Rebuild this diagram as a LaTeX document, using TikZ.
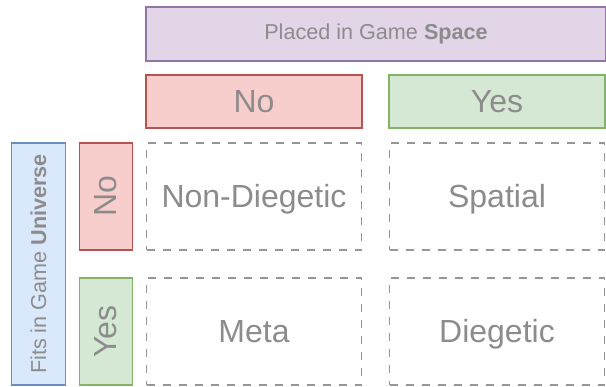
\documentclass[tikz,border=0pt]{standalone}
\usepackage{fontspec}
\setmainfont{Liberation Sans}
\usepackage{graphicx}
\usetikzlibrary{positioning}
\definecolor{txtgray}{RGB}{140,140,140}
\definecolor{cellgray}{RGB}{150,150,150}
\definecolor{redfill}{HTML}{F8CECC}
\definecolor{reddraw}{HTML}{B85450}
\definecolor{greenfill}{HTML}{D5E8D4}
\definecolor{greendraw}{HTML}{82B366}
\definecolor{purplefill}{HTML}{E1D5E7}
\definecolor{purpledraw}{HTML}{9673A6}
\definecolor{bluefill}{HTML}{DAE8FC}
\definecolor{bluedraw}{HTML}{6C8EBF}

\begin{document}
\begin{tikzpicture}[
    x=1pt, y=1pt,
    every node/.style={outer sep=0pt, inner sep=0pt, text=txtgray, align=center},
    big/.style={font=\fontsize{32}{36}\selectfont, text height=23pt, text depth=0pt},
    small/.style={font=\fontsize{21.6}{26}\selectfont},
    cell/.style={rectangle, draw=cellgray, line width=1.6pt, dash pattern=on 8pt off 8pt,
                 minimum width=215pt, minimum height=107pt, big},
    nobox/.style={rectangle, draw=reddraw, fill=redfill, line width=1.5pt, big},
    yesbox/.style={rectangle, draw=greendraw, fill=greenfill, line width=1.5pt, big},
    colhead/.style={minimum width=216pt, minimum height=53pt},
    rowhead/.style={minimum width=53pt, minimum height=107pt, text height=, text depth=}
  ]
  \useasboundingbox (0,0) rectangle (606,-387);

  % the four cells
  \node[cell] (nondieg) at (254,-196.5) {Non-Diegetic};
  \node[cell, right=28pt of nondieg] (spatial) {Spatial};
  \node[cell, below=28pt of nondieg] (meta) {Meta};
  \node[cell, below=28pt of spatial] (dieg) {Diegetic};

  % column heads
  \node[nobox, colhead, above=15pt of nondieg] (colno) {No};
  \node[yesbox, colhead, above=15pt of spatial] (colyes) {Yes};
  \node[rectangle, draw=purpledraw, fill=purplefill, line width=1.5pt, small,
        minimum width=460pt, minimum height=54pt,
        above=14pt of colno.north west, anchor=south west] (space)
        {Placed in Game \textbf{Space}};

  % row heads
  \node[nobox, rowhead, left=14pt of nondieg] (rowno) {\rotatebox{90}{No}};
  \node[yesbox, rowhead, left=14pt of meta] (rowyes) {\rotatebox{90}{Yes}};
  \node[rectangle, draw=bluedraw, fill=bluefill, line width=1.5pt, small,
        minimum width=54pt, minimum height=242pt,
        left=14pt of rowno.north west, anchor=north east] (universe)
        {\rotatebox{90}{Fits in Game \textbf{Universe}}};
\end{tikzpicture}
\end{document}
